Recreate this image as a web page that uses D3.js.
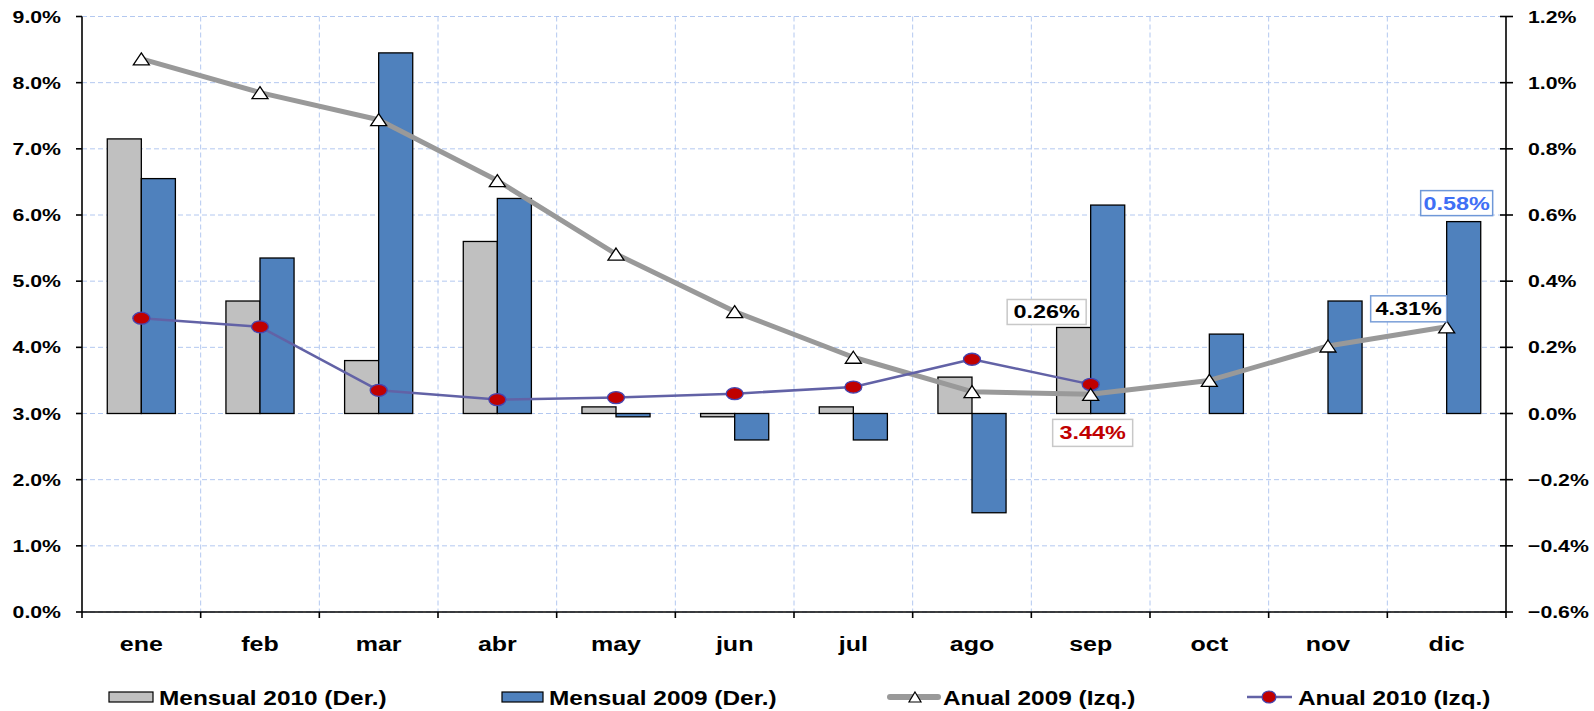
<!DOCTYPE html>
<html>
<head>
<meta charset="utf-8">
<script src="https://cdn.jsdelivr.net/npm/d3@7/dist/d3.min.js"></script>
<style>
  html, body { margin: 0; padding: 0; background: #fff; }
  svg { display: block; }
  text { font-family: "Liberation Sans", Arial, sans-serif; font-weight: bold; }
</style>
</head>
<body>
<svg id="chart" width="1594" height="711"></svg>
<script>
// Months
const months = ["ene", "feb", "mar", "abr", "may", "jun", "jul", "ago", "sep", "oct", "nov", "dic"];

// Monthly inflation (right axis, %)
const mensual2010 = [0.83, 0.34, 0.16, 0.52, 0.02, -0.01, 0.02, 0.11, 0.26, null, null, null];
const mensual2009 = [0.71, 0.47, 1.09, 0.65, -0.01, -0.08, -0.08, -0.30, 0.63, 0.24, 0.34, 0.58];

// Annual inflation (left axis, %)
const anual2009 = [8.36, 7.85, 7.44, 6.52, 5.41, 4.54, 3.85, 3.33, 3.29, 3.50, 4.02, 4.31];
const anual2010 = [4.44, 4.31, 3.35, 3.21, 3.24, 3.30, 3.40, 3.82, 3.44, null, null, null];

// Tick values
const leftTicks = [0, 1, 2, 3, 4, 5, 6, 7, 8, 9];
const rightTicks = [-0.6, -0.4, -0.2, 0, 0.2, 0.4, 0.6, 0.8, 1.0, 1.2];

// Legend entries
const legendLabels = ["Mensual 2010 (Der.)", "Mensual 2009 (Der.)", "Anual 2009 (Izq.)", "Anual 2010 (Izq.)"];

const svg = d3.select("#chart");
const L = 82, R = 1506, T = 16.5, B = 612;

const x = d3.scaleBand().domain(months).range([L, R]).paddingInner(0).paddingOuter(0);
const yL = d3.scaleLinear().domain([0, 9]).range([B, T]);
const yR = d3.scaleLinear().domain([-0.6, 1.2]).range([B, T]);
const barW = x.bandwidth() * 0.287;
const cx = m => x(m) + x.bandwidth() / 2;

const gridColor = "#b3c8f0";
const fmt1 = d3.format(".1f");

// stretched bold text helper
function stext(g, tx, ty, str, opts) {
  return g.append("text")
    .attr("transform", `translate(${tx},${ty}) scale(${opts.sx || 1},1)`)
    .attr("text-anchor", opts.anchor || "start")
    .attr("font-size", opts.size)
    .attr("fill", opts.fill || "#000")
    .text(str);
}

// Gridlines
const grid = svg.append("g");
grid.selectAll("line.h").data(leftTicks).join("line")
  .attr("x1", L).attr("x2", R)
  .attr("y1", d => yL(d)).attr("y2", d => yL(d))
  .attr("stroke", gridColor).attr("stroke-dasharray", "5,3").attr("stroke-width", 1);
grid.selectAll("line.v").data(months.slice(1)).join("line")
  .attr("x1", d => x(d)).attr("x2", d => x(d))
  .attr("y1", T).attr("y2", B)
  .attr("stroke", gridColor).attr("stroke-dasharray", "5,3").attr("stroke-width", 1);

// Bars
const bars = svg.append("g");
const zero = yR(0);
bars.selectAll("rect.m10").data(months.map((m, i) => ({ m, v: mensual2010[i] })).filter(d => d.v !== null)).join("rect")
  .attr("x", d => cx(d.m) - barW)
  .attr("width", barW)
  .attr("y", d => Math.min(yR(d.v), zero))
  .attr("height", d => Math.abs(yR(d.v) - zero))
  .attr("fill", "#c0c0c0").attr("stroke", "#000").attr("stroke-width", 1.3);
bars.selectAll("rect.m09").data(months.map((m, i) => ({ m, v: mensual2009[i] }))).join("rect")
  .attr("x", d => cx(d.m))
  .attr("width", barW)
  .attr("y", d => Math.min(yR(d.v), zero))
  .attr("height", d => Math.abs(yR(d.v) - zero))
  .attr("fill", "#4f81bd").attr("stroke", "#000").attr("stroke-width", 1.3);

// Axes
const axes = svg.append("g").attr("stroke", "#000").attr("stroke-width", 1.6);
axes.append("line").attr("x1", L).attr("x2", L).attr("y1", T).attr("y2", B);
axes.append("line").attr("x1", R).attr("x2", R).attr("y1", T).attr("y2", B);
axes.append("line").attr("x1", L).attr("x2", R).attr("y1", B).attr("y2", B);
axes.selectAll("line.lt").data(leftTicks).join("line")
  .attr("x1", L - 6).attr("x2", L).attr("y1", d => yL(d)).attr("y2", d => yL(d));
axes.selectAll("line.rt").data(rightTicks).join("line")
  .attr("x1", R - 6).attr("x2", R + 7).attr("y1", d => yR(d)).attr("y2", d => yR(d));
axes.selectAll("line.bt").data(months.map(m => x(m)).concat([R])).join("line")
  .attr("x1", d => d).attr("x2", d => d).attr("y1", B).attr("y2", B + 6);

// Tick labels
const lab = svg.append("g");
leftTicks.forEach(v => stext(lab, 61, yL(v) + 6, fmt1(v) + "%", { size: 17, sx: 1.25, anchor: "end" }));
rightTicks.forEach(v => stext(lab, 1528, yR(v) + 6, fmt1(v) + "%", { size: 17, sx: 1.25, anchor: "start" }));
months.forEach(m => stext(lab, cx(m), 651, m, { size: 20, sx: 1.25, anchor: "middle" }));

// Annual lines
const line = (sc) => d3.line().defined(d => d.v !== null).x(d => cx(d.m)).y(d => sc(d.v));
const a09 = months.map((m, i) => ({ m, v: anual2009[i] }));
const a10 = months.map((m, i) => ({ m, v: anual2010[i] })).filter(d => d.v !== null);

svg.append("path").datum(a09).attr("d", line(yL))
  .attr("fill", "none").attr("stroke", "#999999").attr("stroke-width", 5).attr("stroke-linejoin", "round");
svg.append("path").datum(a10).attr("d", line(yL))
  .attr("fill", "none").attr("stroke", "#6262a6").attr("stroke-width", 2.5).attr("stroke-linejoin", "round");

// Markers
const tri = (px, py) => `M${px},${py - 6} L${px + 8},${py + 6} L${px - 8},${py + 6} Z`;
svg.append("g").selectAll("ellipse").data(a10).join("ellipse")
  .attr("cx", d => cx(d.m)).attr("cy", d => yL(d.v)).attr("rx", 8.5).attr("ry", 6)
  .attr("fill", "#c00000").attr("stroke", "#4646b0").attr("stroke-width", 1.3);
svg.append("g").selectAll("path").data(a09).join("path")
  .attr("d", d => tri(cx(d.m), yL(d.v)))
  .attr("fill", "#fff").attr("stroke", "#000").attr("stroke-width", 1.3);

// Value labels
function valueLabel(x0, yTop, w, h, str, border, color) {
  const g = svg.append("g");
  g.append("rect").attr("x", x0 - w / 2).attr("y", yTop).attr("width", w).attr("height", h)
    .attr("fill", "#fff").attr("stroke", border).attr("stroke-width", 1.5);
  stext(g, x0, yTop + h / 2 + 6.5, str, { size: 18, sx: 1.3, anchor: "middle", fill: color });
}
const iSep = months.indexOf("sep"), iDic = months.indexOf("dic");
// Mensual 2010, sep
valueLabel(cx("sep") - 44, yR(mensual2010[iSep]) - 28, 79, 25,
  d3.format(".2f")(mensual2010[iSep]) + "%", "#c8c8c8", "#000");
// Anual 2010, sep
valueLabel(cx("sep") + 2, yL(anual2010[iSep]) + 35, 80, 27,
  d3.format(".2f")(anual2010[iSep]) + "%", "#c8c8c8", "#c00000");
// Anual 2009, dic
valueLabel(cx("dic") - 38, yL(anual2009[iDic]) - 31, 76, 26,
  d3.format(".2f")(anual2009[iDic]) + "%", "#7a9fd8", "#000");
// Mensual 2009, dic
valueLabel(cx("dic") + 10, yR(mensual2009[iDic]) - 31, 72, 25,
  d3.format(".2f")(mensual2009[iDic]) + "%", "#6f98d8", "#3f6ff5");

// Legend
const lg = svg.append("g");
const ly = 697;
lg.append("rect").attr("x", 109).attr("y", ly - 5).attr("width", 44).attr("height", 10)
  .attr("fill", "#c0c0c0").attr("stroke", "#000").attr("stroke-width", 1.2);
stext(lg, 159, ly + 8, legendLabels[0], { size: 20, sx: 1.22 });
lg.append("rect").attr("x", 502).attr("y", ly - 5).attr("width", 41).attr("height", 10)
  .attr("fill", "#4f81bd").attr("stroke", "#000").attr("stroke-width", 1.2);
stext(lg, 549, ly + 8, legendLabels[1], { size: 20, sx: 1.22 });
lg.append("line").attr("x1", 890).attr("x2", 938).attr("y1", ly).attr("y2", ly)
  .attr("stroke", "#999999").attr("stroke-width", 6).attr("stroke-linecap", "round");
lg.append("path").attr("d", `M915,${ly - 5} L921,${ly + 5} L909,${ly + 5} Z`)
  .attr("fill", "#fff").attr("stroke", "#000").attr("stroke-width", 1.2);
stext(lg, 943, ly + 8, legendLabels[2], { size: 20, sx: 1.22 });
lg.append("line").attr("x1", 1247).attr("x2", 1292).attr("y1", ly).attr("y2", ly)
  .attr("stroke", "#6262a6").attr("stroke-width", 2.5);
lg.append("ellipse").attr("cx", 1269).attr("cy", ly).attr("rx", 7).attr("ry", 6)
  .attr("fill", "#c00000").attr("stroke", "#4646b0").attr("stroke-width", 1.2);
stext(lg, 1298, ly + 8, legendLabels[3], { size: 20, sx: 1.22 });
</script>
</body>
</html>
